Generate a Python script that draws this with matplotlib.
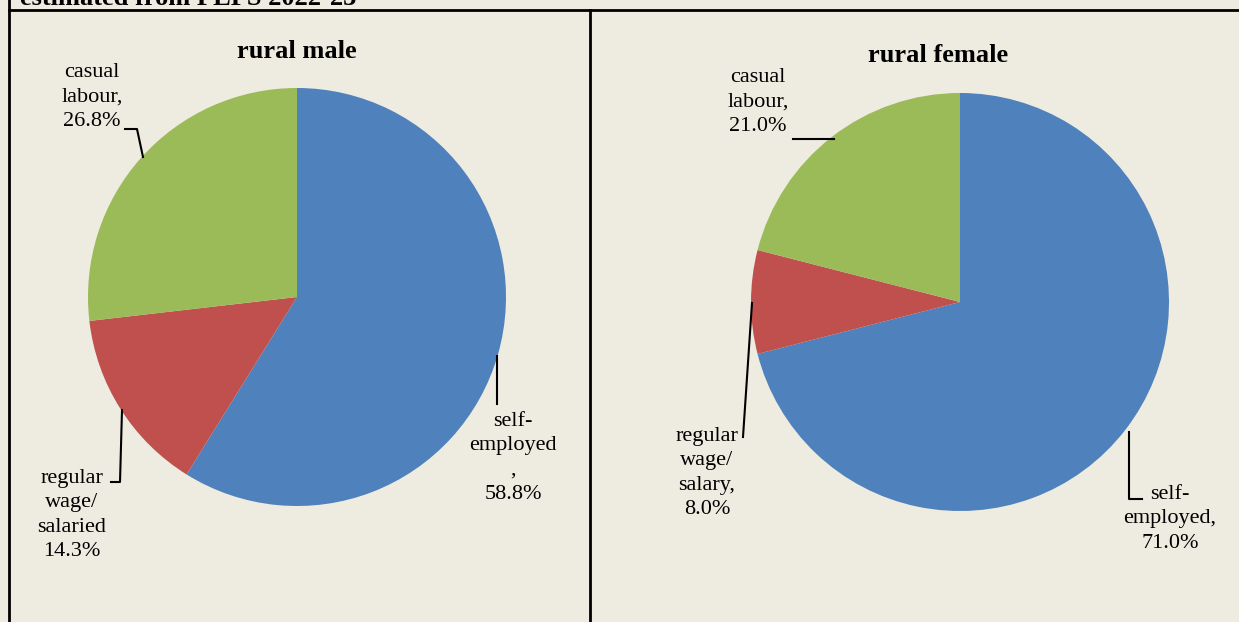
import matplotlib
matplotlib.use('Agg')
import matplotlib.pyplot as plt

# data
categories = ['self-employed', 'regular wage/salaried', 'casual labour']
male_vals = [58.8, 14.3, 26.8]
female_vals = [71.0, 8.0, 21.0]
male_names = ['self-\nemployed\n,', 'regular\nwage/\nsalaried', 'casual\nlabour,']
female_names = ['self-\nemployed,', 'regular\nwage/\nsalary,', 'casual\nlabour,']
colors = ['#4F81BD', '#C0504D', '#9BBB59']

W, H = 1239, 622
bg = '#EEEBE0'
plt.rcParams['font.family'] = ['Liberation Serif', 'DejaVu Serif']

fig = plt.figure(figsize=(W / 100, H / 100), dpi=100, facecolor=bg)


def pie_axes(cx, cy, r):
    ax = fig.add_axes([(cx - r) / W, 1 - (cy + r) / H, 2 * r / W, 2 * r / H])
    ax.set_facecolor('none')
    return ax


ax1 = pie_axes(297, 297, 209)
ax1.pie(male_vals, colors=colors, startangle=90, counterclock=False,
        wedgeprops=dict(linewidth=0))
ax2 = pie_axes(960, 302, 209)
ax2.pie(female_vals, colors=colors, startangle=90, counterclock=False,
        wedgeprops=dict(linewidth=0))
for a in (ax1, ax2):
    a.set_xlim(-1, 1)
    a.set_ylim(-1, 1)
    a.set_aspect('equal')
    a.axis('off')

# overlay in pixel coordinates for frame, titles and labels
ov = fig.add_axes([0, 0, 1, 1])
ov.set_xlim(0, W)
ov.set_ylim(H, 0)
ov.axis('off')
ov.patch.set_alpha(0)

# frame lines
ov.plot([9, W], [10, 10], color='black', lw=2)
ov.plot([9, 9], [0, H], color='black', lw=2)
ov.plot([590, 590], [10, H], color='black', lw=2)

ov.text(20, 5, 'estimated from PLFS 2022-23', fontsize=19, fontweight='bold',
        ha='left', va='baseline')
ov.text(297, 52, 'rural male', fontsize=19, fontweight='bold', ha='center', va='center')
ov.text(938, 55, 'rural female', fontsize=19, fontweight='bold', ha='center', va='center')

# label positions (pixel) for self-employed, regular, casual
male_pos = [(513, 458), (72, 515), (92, 97)]
female_pos = [(1170, 519), (707, 473), (758, 102)]
for names, vals, pos in [(male_names, male_vals, male_pos),
                         (female_names, female_vals, female_pos)]:
    for nm, v, (x, y) in zip(names, vals, pos):
        ov.text(x, y, f'{nm}\n{v:.1f}%', fontsize=16, ha='center', va='center',
                multialignment='center', linespacing=1.4)

# leader lines
leaders = [
    [(125, 129), (137, 129), (143, 157)],
    [(111, 482), (120, 482), (122, 410)],
    [(497, 356), (497, 404)],
    [(793, 139), (834, 139)],
    [(743, 437), (752, 303)],
    [(1129, 432), (1129, 499), (1142, 499)],
]
for pts in leaders:
    xs, ys = zip(*pts)
    ov.plot(xs, ys, color='black', lw=1.5)

fig.savefig('out.png', dpi=100, facecolor=bg)
